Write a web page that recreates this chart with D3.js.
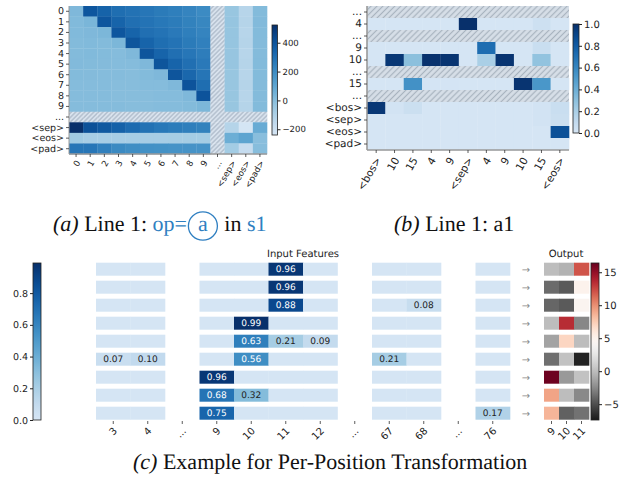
<!DOCTYPE html>
<html><head><meta charset="utf-8">
<script src="https://cdn.jsdelivr.net/npm/d3@7"></script>
<style>body{margin:0;background:#fff} svg{display:block} text{text-rendering:geometricPrecision}</style>
</head><body>
<svg id="c" width="627" height="491"></svg>
<script>
// ---------- Panel (a) ----------
const aLabels = ["0","1","2","3","4","5","6","7","8","9","...","<sep>","<eos>","<pad>"];
const aValues = [
  [ 20, 390, 345, 305, 290, 275, 260, 245, 225, 200, null, -40, -125, 10],
  [ 15,  30, 390, 340, 300, 285, 270, 255, 235, 215, null, -35, -120, 12],
  [ 15,  20,  25, 390, 340, 300, 285, 265, 245, 225, null, -35, -125, 10],
  [ 10,  15,  10,  25, 395, 340, 305, 285, 260, 240, null, -35, -120,  8],
  [ 10,  15,  10,   5,  20, 395, 340, 300, 275, 250, null, -38, -125,  8],
  [ 12,  10,   8,   5,   5,  20, 395, 340, 300, 265, null, -38, -120, 10],
  [ 10,   8,   5,   5,   0,  10,  20, 395, 330, 280, null, -40, -125, 10],
  [  5,   5,   5,   0,   0,   5,   5,  20, 400, 305, null, -40, -120,  8],
  [  5,   5,   5,   0,   0,   0,   5,   5,  20, 400, null, -40, -125,  8],
  [  5,   5,   5,   5,   0,   0,   5,   5,  10,  25, null, -40, -120, 10],
  [null,null,null,null,null,null,null,null,null,null,null,null,null,null],
  [523, 408, 380, 350, 315, 290, 270, 255, 245, 235, null, -120, -235, 75],
  [-65, -80, -80, -80, -80, -80, -80, -78, -75, -75, null,  65,  105, -5],
  [275, 275, 240, 205, 190, 180, 175, 170, 170, 170, null, -70, -175,  0]
];
const aDomain = [-240, 523];
const aTicks = [-200, 0, 200, 400];

// ---------- Panel (b) ----------
const bRowLabels = ["...","4","...","9","10","...","15","...","<bos>","<sep>","<eos>","<pad>"];
const bColLabels = ["<bos>","10","15","4","9","<sep>","4","9","10","15","<eos>"];
const bValues = [
  null,
  [0,0,0,0,0,1.0,0,0,0,0.05,0],
  null,
  [0,0,0,0,0,0,0.72,0,0,0.07,0],
  [0,0.97,0.30,0.99,0.98,0,0.20,0.98,0,0.28,0],
  null,
  [0,0,0.55,0.01,0.01,0,0,0,0.98,0.52,0],
  null,
  [0.97,0.02,0.06,0,0,0,0,0,0,0.02,0.07],
  [0,0,0,0,0,0,0,0,0,0.02,0.06],
  [0,0,0,0,0,0,0,0,0,0,0.85],
  [0,0,0,0,0,0,0,0,0,0,0]
];
const bDomain = [0, 1];
const bTicks = [0, 0.2, 0.4, 0.6, 0.8, 1.0];

// ---------- Panel (c) ----------
const cColLabels = ["3","4","...","9","10","11","12","...","67","68","...","76"];
const cValues = [
  [0,0,null,0,0,0.96,0,null,0,0,null,0],
  [0,0,null,0,0,0.96,0,null,0,0,null,0],
  [0,0,null,0,0,0.88,0,null,0,0.08,null,0],
  [0,0,null,0,0.99,0,0,null,0,0,null,0],
  [0,0,null,0,0.63,0.21,0.09,null,0,0,null,0],
  [0.07,0.10,null,0,0.56,0,0,null,0.21,0,null,0],
  [0,0,null,0.96,0,0,0,null,0,0,null,0],
  [0,0,null,0.68,0.32,0,0,null,0,0,null,0],
  [0,0,null,0.75,0,0,0,null,0,0,null,0.17]
];
const cDomain = [0, 0.99];
const cTicks = [0, 0.2, 0.4, 0.6, 0.8];
const outLabels = ["9","10","11"];
const outValues = [
  [0, -0.5, 12],
  [-3.8, -4.5, 5.0],
  [-4.0, -4.5, 4.6],
  [0, 13.5, -2.6],
  [-1.3, 7.0, 0],
  [-3.6, 0.3, -7.0],
  [16.2, -1.8, 0.3],
  [9.2, 0, -2.5],
  [8.5, -4.2, -3.5]
];
const outDomain = [-7.4, 16.4];
const outTicks = [-5, 0, 5, 10, 15];

// ---------- Captions ----------
const capA = [{t:"(a)", i:true}, {t:" Line 1: "}, {t:"op=", blue:true}, {t:"a", blue:true, circle:true}, {t:" in "}, {t:"s1", blue:true}];
const capB = [{t:"(b)", i:true}, {t:" Line 1: a1"}];
const capC = [{t:"(c)", i:true}, {t:" Example for Per-Position Transformation"}];

// ================= drawing =================
const FONT = "DejaVu Sans, sans-serif";
const svg = d3.select("#c");
const defs = svg.append("defs");

function hatch(id, bg, fg, size, sw) {
  const p = defs.append("pattern").attr("id", id).attr("patternUnits","userSpaceOnUse")
    .attr("width", size).attr("height", size).attr("patternTransform","rotate(45)");
  p.append("rect").attr("width", size).attr("height", size).attr("fill", bg);
  p.append("line").attr("x1", size/2).attr("x2", size/2).attr("y1", 0).attr("y2", size)
    .attr("stroke", fg).attr("stroke-width", sw);
}
hatch("hatchA", "#d8e2ed", "#a3b1c1", 3.2, 1.0);
hatch("hatchB", "#d6dee7", "#a8b3bf", 4.2, 1.2);

const blues = t => d3.interpolateBlues(0.17 + 0.83 * Math.max(0, Math.min(1, t)));

function colorbar(id, x, y0, y1, w, domain, interp, ticks, side, fs, fmt) {
  const g = defs.append("linearGradient").attr("id", id).attr("x1",0).attr("y1",1).attr("x2",0).attr("y2",0);
  d3.range(0, 1.0001, 0.02).forEach(s => g.append("stop").attr("offset", s).attr("stop-color", interp(s)));
  const sc = d3.scaleLinear().domain(domain).range([y1, y0]);
  svg.append("rect").attr("x", x).attr("y", y0).attr("width", w).attr("height", y1 - y0)
    .attr("fill", `url(#${id})`).attr("stroke", "#222").attr("stroke-width", 0.8);
  const ax = (side === "left" ? d3.axisLeft(sc) : d3.axisRight(sc)).tickValues(ticks).tickSize(3).tickPadding(2).tickFormat(fmt);
  const gg = svg.append("g").attr("transform", `translate(${side === "left" ? x : x + w},0)`).call(ax);
  gg.select(".domain").remove();
  gg.selectAll("text").attr("font-family", FONT).attr("font-size", fs).attr("fill", "#222");
  gg.selectAll("line").attr("stroke", "#222");
}

function styleAxis(g, fs) {
  g.select(".domain").remove();
  g.selectAll("text").attr("font-family", FONT).attr("font-size", fs).attr("fill", "#222");
  g.selectAll("line").attr("stroke", "#333").attr("stroke-width", 0.8);
}

// ---- Panel (a)
{
  const x = d3.scaleBand().domain(d3.range(aLabels.length)).range([69, 267]);
  const y = d3.scaleBand().domain(d3.range(aLabels.length)).range([6, 154]);
  const norm = d3.scaleLinear().domain(aDomain).range([0, 1]);
  const cells = [];
  aValues.forEach((row, i) => row.forEach((v, j) => cells.push({i, j, v})));
  svg.append("g").selectAll("rect").data(cells).join("rect")
    .attr("x", d => x(d.j)).attr("y", d => y(d.i))
    .attr("width", x.bandwidth() + 0.3).attr("height", y.bandwidth() + 0.3)
    .attr("fill", d => d.v === null ? "url(#hatchA)" : blues(norm(d.v)));
  svg.append("line").attr("x1", 69).attr("x2", 267).attr("y1", 154).attr("y2", 154).attr("stroke", "#9a9a9a").attr("stroke-width", 1.4);
  svg.append("line").attr("x1", 69).attr("x2", 69).attr("y1", 6).attr("y2", 154).attr("stroke", "#9a9a9a").attr("stroke-width", 1.0);
  const gy = svg.append("g").attr("transform", "translate(69,0)")
    .call(d3.axisLeft(y).tickSize(3).tickPadding(2).tickFormat(i => aLabels[i]));
  styleAxis(gy, 9.5);
  const gx = svg.append("g").attr("transform", "translate(0,154)")
    .call(d3.axisBottom(x).tickSize(3).tickFormat(i => aLabels[i]));
  styleAxis(gx, 8.5);
  gx.selectAll("text").attr("text-anchor", "end").attr("x", 0).attr("y", 0).attr("dy", "0.35em")
    .attr("transform", "translate(2,7) rotate(-60)");
  colorbar("cbA", 272, 25, 135, 5.5, aDomain, blues, aTicks, "right", 8.5, d3.format(""));
}

// ---- Panel (b)
{
  const x = d3.scaleBand().domain(d3.range(bColLabels.length)).range([367, 569]);
  const y = d3.scaleBand().domain(d3.range(bRowLabels.length)).range([6, 150]);
  const cells = [];
  bValues.forEach((row, i) => {
    if (row === null) cells.push({i, j: null, v: null});
    else row.forEach((v, j) => cells.push({i, j, v}));
  });
  svg.append("g").selectAll("rect").data(cells).join("rect")
    .attr("x", d => d.j === null ? 367 : x(d.j)).attr("y", d => y(d.i))
    .attr("width", d => d.j === null ? 202 : x.bandwidth() + 0.3).attr("height", y.bandwidth() + 0.3)
    .attr("fill", d => d.v === null ? "url(#hatchB)" : blues(d.v));
  svg.append("line").attr("x1", 367).attr("x2", 569).attr("y1", 150).attr("y2", 150).attr("stroke", "#9a9a9a").attr("stroke-width", 1.6);
  svg.append("line").attr("x1", 367).attr("x2", 367).attr("y1", 6).attr("y2", 150).attr("stroke", "#9a9a9a").attr("stroke-width", 1.6);
  const gy = svg.append("g").attr("transform", "translate(367,0)")
    .call(d3.axisLeft(y).tickSize(3).tickPadding(2).tickFormat(i => bRowLabels[i]));
  styleAxis(gy, 10.5);
  const gx = svg.append("g").attr("transform", "translate(0,150)")
    .call(d3.axisBottom(x).tickSize(3).tickFormat(i => bColLabels[i]));
  styleAxis(gx, 10.5);
  gx.selectAll("text").attr("text-anchor", "end").attr("x", 0).attr("y", 0).attr("dy", "0.35em")
    .attr("transform", "translate(2,8) rotate(-60)");
  colorbar("cbB", 573, 24, 133, 6, bDomain, blues, bTicks, "right", 10, d3.format(".1f"));
}

// ---- Panel (c)
{
  const x = d3.scaleBand().domain(d3.range(cColLabels.length)).range([96, 510]);
  const y = d3.scaleBand().domain(d3.range(cValues.length)).range([262.7, 419.7]).paddingInner(5/18);
  const norm = d3.scaleLinear().domain(cDomain).range([0, 1]);
  const cells = [];
  cValues.forEach((row, i) => row.forEach((v, j) => { if (v !== null) cells.push({i, j, v}); }));
  const g = svg.append("g");
  g.selectAll("rect").data(cells).join("rect")
    .attr("x", d => x(d.j)).attr("y", d => y(d.i))
    .attr("width", x.bandwidth() + 0.3).attr("height", y.bandwidth())
    .attr("fill", d => blues(norm(d.v)));
  g.selectAll("text").data(cells.filter(d => d.v >= 0.05)).join("text")
    .attr("x", d => x(d.j) + x.bandwidth()/2).attr("y", d => y(d.i) + y.bandwidth()/2)
    .attr("dy", "0.36em").attr("text-anchor", "middle")
    .attr("font-family", FONT).attr("font-size", 9)
    .attr("fill", d => d.v > 0.5 ? "#fff" : "#222")
    .text(d => d3.format(".2f")(d.v));
  const gx = svg.append("g").attr("transform", "translate(0,421)")
    .call(d3.axisBottom(x).tickSize(3).tickFormat(i => cColLabels[i]));
  styleAxis(gx, 10);
  gx.selectAll("text").attr("text-anchor", "end").attr("x", 0).attr("y", 0).attr("dy", "0.35em")
    .attr("transform", "translate(2,8) rotate(-45)");
  svg.append("text").attr("x", 303).attr("y", 257).attr("text-anchor", "middle")
    .attr("font-family", FONT).attr("font-size", 10).attr("fill", "#222").text("Input Features");

  svg.append("g").selectAll("text").data(cValues).join("text")
    .attr("x", 526).attr("y", (d, i) => y(i) + y.bandwidth()/2).attr("dy", "0.35em")
    .attr("text-anchor", "middle").attr("font-family", FONT).attr("font-size", 10).attr("fill", "#8a8a8a")
    .text("→");

  const xo = d3.scaleBand().domain(d3.range(outLabels.length)).range([544, 589]);
  const on = d3.scaleLinear().domain(outDomain).range([0, 1]);
  const rdgy = t => d3.interpolateRdGy(1 - t);
  const oc = [];
  outValues.forEach((row, i) => row.forEach((v, j) => oc.push({i, j, v})));
  svg.append("g").selectAll("rect").data(oc).join("rect")
    .attr("x", d => xo(d.j)).attr("y", d => y(d.i))
    .attr("width", xo.bandwidth() + 0.3).attr("height", y.bandwidth())
    .attr("fill", d => rdgy(on(d.v)));
  const gxo = svg.append("g").attr("transform", "translate(0,421)")
    .call(d3.axisBottom(xo).tickSize(3).tickFormat(i => outLabels[i]));
  styleAxis(gxo, 10);
  gxo.selectAll("text").attr("text-anchor", "end").attr("x", 0).attr("y", 0).attr("dy", "0.35em")
    .attr("transform", "translate(2,8) rotate(-45)");
  svg.append("text").attr("x", 566).attr("y", 257).attr("text-anchor", "middle")
    .attr("font-family", FONT).attr("font-size", 10).attr("fill", "#222").text("Output");

  colorbar("cbC", 33, 263, 420, 8, cDomain, blues, cTicks, "left", 9.5, d3.format(".1f"));
  colorbar("cbO", 591, 263, 420, 8, outDomain, rdgy, outTicks, "right", 10, d3.format(""));
}

// ---- captions
function caption(x0, yb, pieces) {
  const g = svg.append("g");
  let cx = x0;
  pieces.forEach(p => {
    const col = p.blue ? "#2f7fc1" : "#111";
    const t = g.append("text").attr("x", cx).attr("y", yb)
      .attr("font-family", "Liberation Serif, Times New Roman, serif").attr("font-size", 22)
      .attr("fill", col).style("font-style", p.i ? "italic" : "normal").style("white-space", "pre").text(p.t);
    let w = t.node().getComputedTextLength();
    if (p.circle) {
      const pad = 11;
      t.attr("x", cx + pad);
      g.append("ellipse").attr("cx", cx + pad + w/2).attr("cy", yb - 5).attr("rx", 14.5).attr("ry", 14.2)
        .attr("fill", "none").attr("stroke", col).attr("stroke-width", 1.3);
      w += 2 * pad;
    }
    cx += w;
  });
}
caption(53, 231, capA);
caption(394, 231, capB);
caption(133, 469, capC);
</script>
</body></html>
